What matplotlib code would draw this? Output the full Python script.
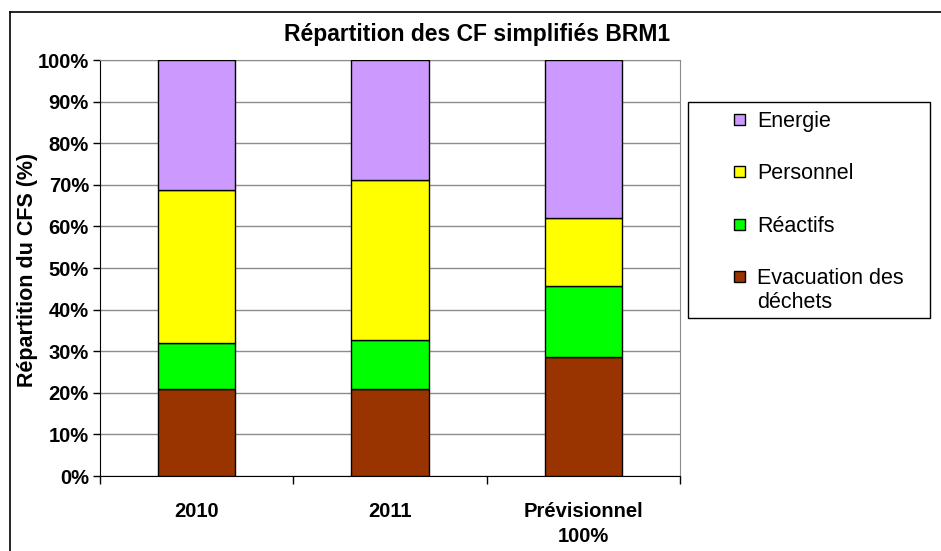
import matplotlib.pyplot as plt
from matplotlib.lines import Line2D
from matplotlib.patches import Rectangle

plt.rcParams['font.family'] = ['Liberation Sans', 'DejaVu Sans']

categories = ["2010", "2011", "Prévisionnel\n100%"]
series_names = ["Evacuation des\ndéchets", "Réactifs", "Personnel", "Energie"]
dechets = [21.0, 21.0, 28.5]
reactifs = [10.9, 11.6, 17.1]
personnel = [36.8, 38.5, 16.3]
energie = [31.3, 28.9, 38.1]
colors = ["#993300", "#00FF00", "#FFFF00", "#CC99FF"]

fig = plt.figure(figsize=(9.41, 5.51), dpi=100)
ax = fig.add_axes([100 / 941, 1 - 476 / 551, 580 / 941, 416 / 551])

x = list(range(len(categories)))
bottom = [0.0] * len(categories)
for vals, col in zip([dechets, reactifs, personnel, energie], colors):
    ax.bar(x, vals, width=0.4, bottom=bottom, color=col, edgecolor='black',
           linewidth=1, zorder=3)
    bottom = [b + v for b, v in zip(bottom, vals)]

ax.set_xlim(-0.5, 2.5)
ax.set_ylim(0, 100)
ax.set_yticks(range(0, 101, 10))
ax.set_yticklabels([f"{v}%" for v in range(0, 101, 10)], fontweight='bold', fontsize=14.5)
ax.set_xticks(x)
ax.set_xticklabels(categories, fontweight='bold', fontsize=14.5, linespacing=1.35)
ax.set_xticks([-0.5, 0.5, 1.5, 2.5], minor=True)
ax.tick_params(axis='x', which='major', length=0, pad=19)
ax.tick_params(axis='x', which='minor', length=6, width=1, direction='out')
ax.tick_params(axis='y', length=5, width=1, direction='out', pad=3)
ax.grid(axis='y', color='#8c8c8c', linewidth=1, zorder=0)
ax.spines['left'].set_color('black')
ax.spines['bottom'].set_color('black')
ax.spines['top'].set_color('#8c8c8c')
ax.spines['right'].set_color('#8c8c8c')
ax.set_axisbelow(True)

fig.text(477 / 941, 1 - 35 / 551, "Répartition des CF simplifiés BRM1",
         ha='center', va='center', fontweight='bold', fontsize=16.5)
fig.text(28 / 941, 1 - 270 / 551, "Répartition du CFS (%)", rotation=90,
         ha='center', va='center', fontweight='bold', fontsize=15.5)

# outer chart border
fig.add_artist(Line2D([10 / 941, 10 / 941], [0, 1 - 12 / 551], color='black', lw=1.2))
fig.add_artist(Line2D([10 / 941, 1], [1 - 12 / 551, 1 - 12 / 551], color='black', lw=1.2))

# legend box
fig.add_artist(Rectangle((688 / 941, 1 - 318 / 551), 242 / 941, 216 / 551,
                         transform=fig.transFigure, facecolor='white',
                         edgecolor='black', lw=1))
leg_y = [120, 172, 225, 277]
for name, col, yy in zip(series_names[::-1], colors[::-1], leg_y):
    fig.add_artist(Rectangle((734 / 941, 1 - (yy + 5) / 551), 11 / 941, 11 / 551,
                             transform=fig.transFigure, facecolor=col,
                             edgecolor='black', lw=1))
    fig.text(757 / 941, 1 - (yy - 9) / 551, name, ha='left', va='top',
             fontsize=15.5, linespacing=1.2)

fig.savefig("out.png", dpi=100)
